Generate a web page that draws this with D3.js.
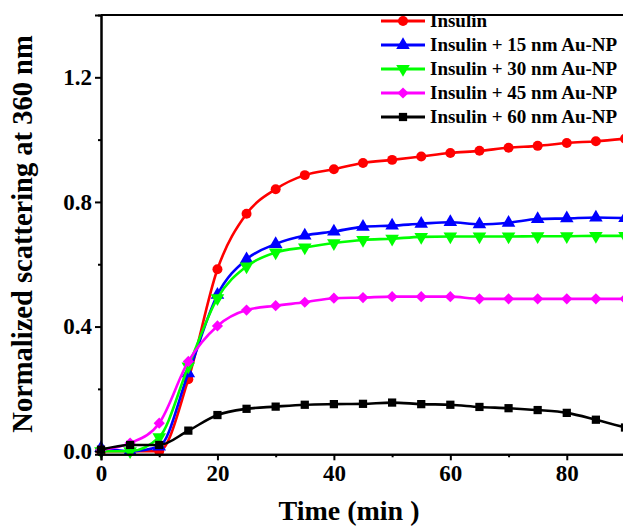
<!DOCTYPE html>
<html>
<head>
<meta charset="utf-8">
<script src="https://cdn.jsdelivr.net/npm/d3@7"></script>
<style>
  html, body { margin: 0; padding: 0; background: #fff; }
  svg { display: block; }
</style>
</head>
<body>
<div id="chart"></div>
<script>
// time points (min)
const times = [0, 5, 10, 15, 20, 25, 30, 35, 40, 45, 50, 55, 60, 65, 70, 75, 80, 85, 90];

// normalized scattering at 360 nm
const insulin = [0, 0, 0, 0.231, 0.584, 0.762, 0.841, 0.886, 0.905, 0.925, 0.935, 0.946, 0.957, 0.964, 0.974, 0.980, 0.989, 0.995, 1.003];
const au15 = [0.01, 0.0, 0.015, 0.25, 0.502, 0.616, 0.665, 0.692, 0.705, 0.72, 0.724, 0.73, 0.735, 0.728, 0.733, 0.745, 0.747, 0.750, 0.748];
const au30 = [0, 0, 0.045, 0.272, 0.491, 0.593, 0.638, 0.654, 0.668, 0.678, 0.682, 0.688, 0.689, 0.689, 0.689, 0.690, 0.690, 0.691, 0.691];
const au45 = [0.005, 0.026, 0.09, 0.288, 0.402, 0.453, 0.467, 0.478, 0.491, 0.493, 0.496, 0.496, 0.496, 0.489, 0.489, 0.489, 0.489, 0.489, 0.489];
const au60 = [0.005, 0.02, 0.02, 0.066, 0.116, 0.136, 0.143, 0.149, 0.151, 0.152, 0.156, 0.151, 0.149, 0.142, 0.138, 0.132, 0.123, 0.101, 0.076];

const seriesNames = ["Insulin", "Insulin + 15 nm Au-NP", "Insulin + 30 nm Au-NP", "Insulin + 45 nm Au-NP", "Insulin + 60 nm Au-NP"];
const seriesValues = [insulin, au15, au30, au45, au60];

const xMajor = [0, 20, 40, 60, 80];
const xMinor = [10, 30, 50, 70, 90];
const yMajor = [0, 0.4, 0.8, 1.2];
const yMinor = [0.2, 0.6, 1.0];

const width = 623, height = 527;
const colors = ["#ff0000", "#0000ff", "#00ff00", "#ff00ff", "#000000"];
const symbols = [
    { type: d3.symbolCircle, size: 78, rotate: 0 },
    { type: d3.symbolTriangle, size: 80, rotate: 0 },
    { type: d3.symbolTriangle, size: 80, rotate: 180 },
    { type: d3.symbolDiamond2, size: 80, rotate: 0 },
    { type: d3.symbolSquare, size: 68, rotate: 0 }
];
const font = "'Liberation Serif', 'Times New Roman', serif";

const svg = d3.select("#chart")
    .append("svg")
    .attr("width", width)
    .attr("height", height)
    .style("font-family", font)
    .style("font-weight", "bold");

const xScale = d3.scaleLinear().domain([0, 90]).range([101, 625]);
const yScale = d3.scaleLinear().domain([-0.01, 1.4]).range([454.3, 15]);

// axes
const xAxis = d3.axisBottom(xScale).tickValues(xMajor).tickSize(6).tickPadding(4).tickFormat(d3.format("d"));
const xAxisMinor = d3.axisBottom(xScale).tickValues(xMinor).tickSize(3).tickFormat("");
const yAxis = d3.axisLeft(yScale).tickValues(yMajor).tickSize(6).tickPadding(3).tickFormat(d3.format(".1f"));
const yAxisMinor = d3.axisLeft(yScale).tickValues(yMinor).tickSize(3).tickFormat("");

function styleAxis(g) {
    g.select(".domain").attr("stroke", "#000").attr("stroke-width", 2);
    g.selectAll(".tick line").attr("stroke", "#000").attr("stroke-width", 2);
    g.selectAll(".tick text")
        .attr("fill", "#000")
        .style("font-size", "23px")
        .style("font-family", font)
        .style("font-weight", "bold");
}

// top border
svg.append("line")
    .attr("x1", xScale(0)).attr("x2", width)
    .attr("y1", yScale.range()[1]).attr("y2", yScale.range()[1])
    .attr("stroke", "#000").attr("stroke-width", 2);

// line generator
const line = d3.line()
    .x(d => xScale(d[0]))
    .y(d => yScale(d[1]))
    .curve(d3.curveMonotoneX);

seriesValues.forEach((vals, i) => {
    const pts = times.map((t, j) => [t, vals[j]]);
    const g = svg.append("g");
    g.append("path")
        .datum(pts)
        .attr("fill", "none")
        .attr("stroke", colors[i])
        .attr("stroke-width", 2.6)
        .attr("d", line);
    const sym = d3.symbol().type(symbols[i].type).size(symbols[i].size);
    g.selectAll("path.marker")
        .data(pts)
        .join("path")
        .attr("class", "marker")
        .attr("fill", colors[i])
        .attr("transform", d => `translate(${xScale(d[0])},${yScale(d[1])}) rotate(${symbols[i].rotate})`)
        .attr("d", sym);
});

svg.append("g")
    .attr("transform", `translate(0, ${yScale.range()[0]})`)
    .call(xAxisMinor)
    .call(styleAxis);
svg.append("g")
    .attr("transform", `translate(0, ${yScale.range()[0]})`)
    .call(xAxis)
    .call(styleAxis);
svg.append("g")
    .attr("transform", `translate(${xScale(0)}, 0)`)
    .call(yAxisMinor)
    .call(styleAxis);
svg.append("g")
    .attr("transform", `translate(${xScale(0)}, 0)`)
    .call(yAxis)
    .call(styleAxis);

// axis titles
svg.append("text")
    .attr("x", 349)
    .attr("y", 520)
    .attr("text-anchor", "middle")
    .style("font-size", "28px")
    .text("Time (min )");

svg.append("text")
    .attr("transform", "rotate(-90)")
    .attr("x", -234)
    .attr("y", 32)
    .attr("text-anchor", "middle")
    .style("font-size", "28.5px")
    .text("Normalized scattering at 360 nm");

// legend
const legend = svg.append("g");
seriesNames.forEach((name, i) => {
    const y = 21 + i * 24;
    legend.append("line")
        .attr("x1", 381).attr("x2", 425)
        .attr("y1", y).attr("y2", y)
        .attr("stroke", colors[i]).attr("stroke-width", 3);
    legend.append("path")
        .attr("fill", colors[i])
        .attr("transform", `translate(403,${y}) rotate(${symbols[i].rotate})`)
        .attr("d", d3.symbol().type(symbols[i].type).size(symbols[i].size)());
    legend.append("text")
        .attr("x", 430)
        .attr("y", y + 6)
        .style("font-size", "19px")
        .text(name);
});
</script>
</body>
</html>
